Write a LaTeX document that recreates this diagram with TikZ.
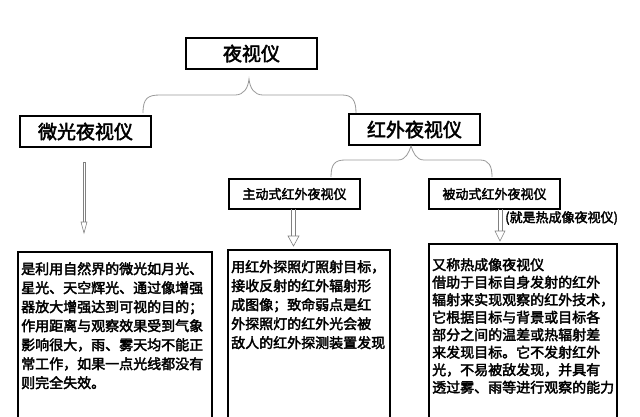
\documentclass[tikz,border=0pt]{standalone}
\usepackage{fontspec}
\setmainfont{Noto Sans CJK SC}[AutoFakeBold=2.5]
\begin{document}
\begin{tikzpicture}[x=1pt,y=-1pt,
  box/.style={draw=black,line width=1.3pt,inner sep=0pt},
  tbox/.style={draw=black,line width=1.3pt,anchor=north west,inner sep=0pt},
  txt/.style={anchor=north west,align=left,font=\fontsize{14}{19}\selectfont\bfseries,inner sep=0pt},
  brace/.style={draw=gray!80,line width=0.8pt},
  arr/.style={draw=gray,line width=0.6pt}]
\useasboundingbox (0,0) rectangle (640,416);
% title boxes
\node[box,minimum width=131pt,minimum height=31pt,font=\fontsize{19}{19}\selectfont\bfseries] (top) at (251.5,53.5) {夜视仪};
\node[box,minimum width=131pt,minimum height=31pt,font=\fontsize{19}{19}\selectfont\bfseries] (wg) at (85.5,131.5) {微光夜视仪};
\node[box,minimum width=131pt,minimum height=31pt,font=\fontsize{19}{19}\selectfont\bfseries] (hw) at (414.5,129.5) {红外夜视仪};
\node[box,minimum width=131pt,minimum height=30pt,font=\fontsize{13}{13}\selectfont\bfseries] (zd) at (294.5,194) {主动式红外夜视仪};
\node[box,minimum width=131pt,minimum height=30pt,font=\fontsize{13}{13}\selectfont\bfseries] (bd) at (494.5,194) {被动式红外夜视仪};
\node[font=\fontsize{13}{13}\selectfont\bfseries,anchor=west,inner sep=0pt] (note) at (505,218) {(就是热成像夜视仪)};
% braces
\draw[brace] (143,113) .. controls (143,98) and (148,95) .. (160,95) -- (235,95) .. controls (244,95) and (248,88) .. (249,79)
  .. controls (250,88) and (254,95) .. (263,95) -- (342,95) .. controls (352,95) and (356,100) .. (356,113);
\draw[brace] (331,177) .. controls (331,164) and (335,160) .. (345,160) -- (398,160) .. controls (406,160) and (409,152) .. (411,146)
  .. controls (413,152) and (416,160) .. (424,160) -- (480,160) .. controls (489,160) and (492,166) .. (492,177);
% arrows
\draw[arr] (83,162) -- (83,222) (85,162) -- (85,222) (83,162)--(85,162);
\draw[arr] (81,222) -- (84,233) -- (87,222) -- cycle;
\draw[arr] (291.5,209) -- (291.5,236) (295.5,209) -- (295.5,236);
\draw[arr] (288,236) -- (293.5,246) -- (299,236) -- cycle;
\draw[arr] (498,209) -- (498,231) (502,209) -- (502,231);
\draw[arr] (495,231) -- (500,241) -- (505,231) -- cycle;
% text boxes
\draw[line width=1.3pt] (18,430) -- (18,252) -- (212,252) -- (212,430);
\draw[line width=1.3pt] (228,430) -- (228,250) -- (390,250) -- (390,430);
\draw[line width=1.3pt] (429,430) -- (429,244) -- (617,244) -- (617,430);
\node[txt] (t1) at (21,262) {是利用自然界的微光如月光、\\星光、天空辉光、通过像增强\\器放大增强达到可视的目的；\\作用距离与观察效果受到气象\\影响很大，雨、雾天均不能正\\常工作，如果一点光线都没有\\则完全失效。};
\node[txt] (t2) at (231,260) {用红外探照灯照射目标，\\接收反射的红外辐射形\\成图像；致命弱点是红\\外探照灯的红外光会被\\敌人的红外探测装置发现};
\node[txt,font=\fontsize{14}{17.5}\selectfont\bfseries] (t3) at (432,258) {又称热成像夜视仪\\借助于目标自身发射的红外\\辐射来实现观察的红外技术，\\它根据目标与背景或目标各\\部分之间的温差或热辐射差\\来发现目标。它不发射红外\\光，不易被敌发现，并具有\\透过雾、雨等进行观察的能力};
\end{tikzpicture}
\end{document}
